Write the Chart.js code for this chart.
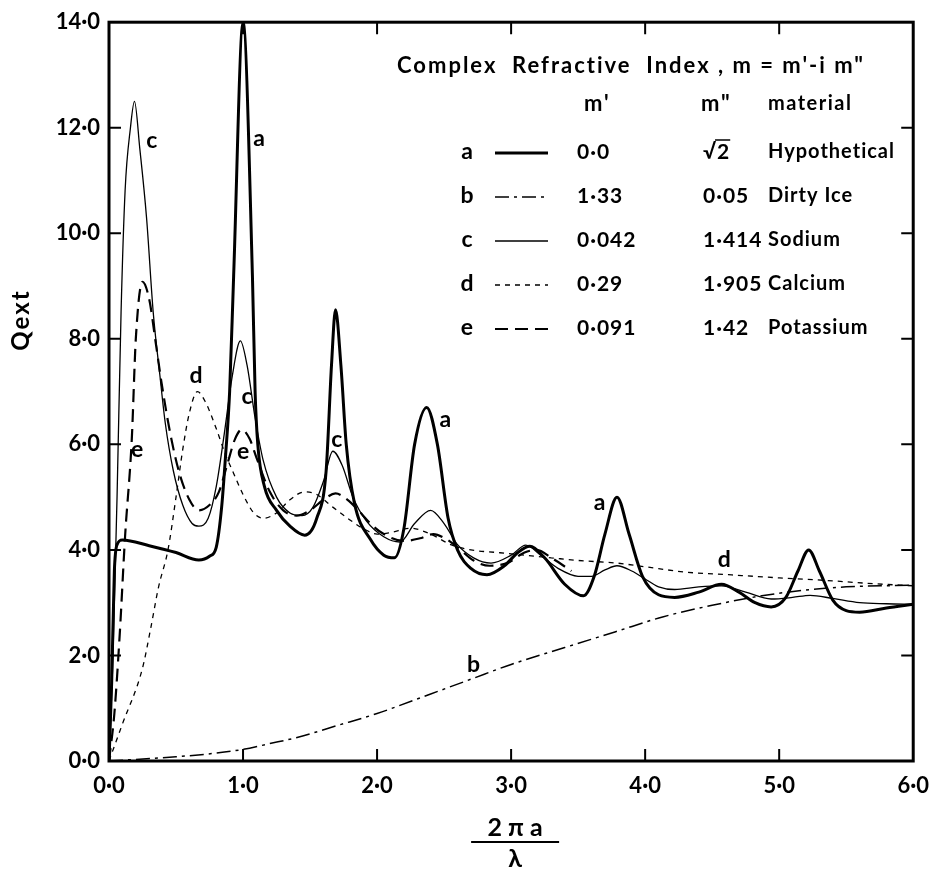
<!DOCTYPE html>
<html lang="en">
<head>
  <meta charset="UTF-8">
  <title>Qext vs 2πa/λ</title>
  <script src="https://cdn.jsdelivr.net/npm/chart.js"></script>
  <style>
    body { margin: 0; background: #fff; }
    canvas { display: block; }
  </style>
</head>
<body>
  <canvas id="qext" width="941" height="871"></canvas>
  <script>
    // curve data, [x, Qext]
    const curveA = [[0,0],[0.02,1.5],[0.04,3.6],[0.06,4.1],[0.1,4.19],[0.3,4.08],[0.5,3.95],[0.67,3.81],[0.75,3.88],
      [0.8,4.05],[0.84,4.8],[0.87,5.8],[0.9,7.0],[0.93,9.2],[1.0,14.0],[1.07,9.2],[1.09,7.0],[1.11,6.0],[1.16,5.2],
      [1.25,4.75],[1.35,4.45],[1.46,4.28],[1.55,4.6],[1.62,5.5],[1.66,7.5],[1.69,8.55],[1.73,7.5],[1.77,6.0],[1.83,4.9],
      [1.95,4.2],[2.05,3.9],[2.13,3.85],[2.2,4.4],[2.28,6.0],[2.37,6.7],[2.45,6.0],[2.53,4.6],[2.6,4.0],[2.7,3.65],
      [2.82,3.53],[2.95,3.7],[3.05,3.95],[3.14,4.07],[3.25,3.85],[3.4,3.35],[3.54,3.13],[3.62,3.5],[3.7,4.3],[3.79,5.0],
      [3.88,4.3],[3.98,3.5],[4.1,3.15],[4.22,3.1],[4.4,3.2],[4.57,3.35],[4.7,3.2],[4.82,3.0],[4.94,2.92],[5.05,3.1],
      [5.14,3.6],[5.22,4.0],[5.3,3.6],[5.4,3.05],[5.5,2.85],[5.6,2.82],[5.8,2.9],[6.0,2.97]];
    const curveB = [[0,0],[0.5,0.08],[0.8,0.15],[1.0,0.22],[1.2,0.33],[1.41,0.45],[1.7,0.67],[2.0,0.9],[2.4,1.27],
      [2.7,1.55],[3.0,1.83],[3.4,2.15],[3.78,2.45],[4.13,2.73],[4.5,2.95],[4.87,3.13],[5.2,3.24],[5.5,3.3],[6.0,3.33]];
    const curveC = [[0,0],[0.03,2.0],[0.06,5.0],[0.09,8.5],[0.12,10.8],[0.16,12.0],[0.19,12.5],[0.23,11.6],[0.28,10.3],
      [0.33,8.5],[0.38,7.3],[0.42,6.4],[0.48,5.5],[0.55,4.85],[0.62,4.5],[0.67,4.45],[0.74,4.6],[0.8,5.2],[0.86,6.2],
      [0.92,7.3],[0.98,7.96],[1.03,7.5],[1.09,6.5],[1.15,5.7],[1.25,5.0],[1.35,4.7],[1.44,4.65],[1.52,4.8],[1.6,5.3],
      [1.67,5.87],[1.74,5.6],[1.82,5.0],[1.92,4.55],[2.05,4.25],[2.17,4.15],[2.28,4.5],[2.4,4.75],[2.5,4.5],[2.6,4.1],
      [2.72,3.85],[2.85,3.75],[3.0,3.9],[3.11,4.09],[3.22,3.9],[3.35,3.65],[3.5,3.5],[3.6,3.5],[3.7,3.62],[3.79,3.7],
      [3.9,3.6],[4.0,3.45],[4.1,3.3],[4.22,3.25],[4.4,3.3],[4.57,3.32],[4.75,3.2],[4.94,3.07],[5.1,3.1],[5.23,3.14],
      [5.4,3.08],[5.6,3.0],[5.8,2.98],[6.0,2.97]];
    const curveD = [[0,0],[0.1,0.7],[0.25,1.76],[0.31,2.5],[0.37,3.3],[0.44,4.0],[0.5,5.0],[0.55,5.9],[0.6,6.6],[0.66,7.0],
      [0.72,6.8],[0.8,6.3],[0.87,5.8],[0.93,5.45],[1.0,5.05],[1.08,4.7],[1.15,4.6],[1.25,4.7],[1.35,4.95],[1.46,5.1],
      [1.55,5.05],[1.65,4.85],[1.78,4.6],[1.9,4.4],[2.0,4.3],[2.1,4.33],[2.25,4.41],[2.4,4.3],[2.55,4.1],[2.7,4.0],
      [2.9,3.95],[3.1,3.9],[3.3,3.85],[3.5,3.8],[3.79,3.75],[4.0,3.68],[4.3,3.58],[4.62,3.53],[5.0,3.47],[5.36,3.42],
      [5.7,3.36],[6.0,3.32]];
    const curveE = [[0,0],[0.04,0.9],[0.08,2.4],[0.12,4.26],[0.17,6.1],[0.2,8.0],[0.25,9.08],[0.3,8.75],[0.35,7.9],
      [0.39,7.2],[0.45,6.3],[0.52,5.5],[0.6,4.95],[0.67,4.75],[0.75,4.85],[0.82,5.1],[0.88,5.6],[0.94,6.1],[0.99,6.28],
      [1.05,6.1],[1.1,5.75],[1.2,5.1],[1.3,4.75],[1.4,4.65],[1.5,4.75],[1.6,4.95],[1.69,5.07],[1.78,4.95],[1.86,4.75],
      [1.95,4.5],[2.05,4.3],[2.2,4.17],[2.32,4.22],[2.42,4.3],[2.52,4.2],[2.6,4.05],[2.72,3.8],[2.84,3.7],[2.97,3.75],
      [3.1,3.95],[3.19,4.0],[3.3,3.85],[3.45,3.6]];

    const xTicks = [0, 1, 2, 3, 4, 5, 6];
    const yTicks = [0, 2, 4, 6, 8, 10, 12, 14];

    // legend table
    const legendKeys = ['a', 'b', 'c', 'd', 'e'];
    const legendMReal = ['0·0', '1·33', '0·042', '0·29', '0·091'];
    const legendMImag = ['√2', '0·05', '1·414', '1·905', '1·42'];
    const legendMaterial = ['Hypothetical', 'Dirty Ice', 'Sodium', 'Calcium', 'Potassium'];

    // curve letters placed on the plot [x, y, text]
    const curveLabels = [[0.32,11.76,'c'],[1.12,11.8,'a'],[0.65,7.3,'d'],[1.03,6.9,'c'],[0.21,5.9,'e'],[1.0,5.87,'e'],
      [1.7,6.1,'c'],[2.51,6.47,'a'],[3.66,4.9,'a'],[2.72,1.83,'b'],[4.59,3.81,'d']];

    const styles = {
      a: { width: 3, dash: [] },
      b: { width: 1.5, dash: [14, 5, 3, 5] },
      c: { width: 1.3, dash: [] },
      d: { width: 1.3, dash: [5, 5] },
      e: { width: 2.2, dash: [13, 7] }
    };

    const FONT = 'Lato, "DejaVu Sans", sans-serif';

    function fmt(v) { return v.toFixed(1).replace('.', '·'); }

    function makeSet(key, pts) {
      return {
        label: key,
        data: pts.map(p => ({ x: p[0], y: p[1] })),
        borderColor: '#000',
        borderWidth: styles[key].width,
        borderDash: styles[key].dash,
        pointRadius: 0,
        fill: false,
        cubicInterpolationMode: 'monotone'
      };
    }

    const decor = {
      id: 'decor',
      afterDraw(chart) {
        const ctx = chart.ctx, area = chart.chartArea;
        const x = chart.scales.x, y = chart.scales.y;
        ctx.save();
        ctx.strokeStyle = '#000';
        ctx.fillStyle = '#000';
        ctx.setLineDash([]);

        // frame
        ctx.lineWidth = 3;
        ctx.strokeRect(area.left, area.top, area.right - area.left, area.bottom - area.top);

        // inward ticks on all four sides
        ctx.lineWidth = 2;
        ctx.beginPath();
        xTicks.slice(1, -1).forEach(v => {
          const px = x.getPixelForValue(v);
          ctx.moveTo(px, area.bottom); ctx.lineTo(px, area.bottom - 12);
          ctx.moveTo(px, area.top); ctx.lineTo(px, area.top + 12);
        });
        yTicks.slice(1, -1).forEach(v => {
          const py = y.getPixelForValue(v);
          ctx.moveTo(area.left, py); ctx.lineTo(area.left + 12, py);
          ctx.moveTo(area.right, py); ctx.lineTo(area.right - 12, py);
        });
        ctx.stroke();

        // curve letters
        ctx.font = 'bold 23px ' + FONT;
        ctx.textAlign = 'center';
        ctx.textBaseline = 'middle';
        curveLabels.forEach(l => {
          ctx.fillText(l[2], x.getPixelForValue(l[0]), y.getPixelForValue(l[1]));
        });

        // legend table
        ctx.textAlign = 'left';
        ctx.font = 'bold 22px ' + FONT;
        ctx.letterSpacing = '2px';
        ctx.fillText("Complex  Refractive  Index , m = m'-i m\"", 397, 66);
        ctx.fillText("m'", 584, 104);
        ctx.fillText("m\"", 701, 104);
        ctx.font = 'bold 20px ' + FONT;
        ctx.letterSpacing = '1.5px';
        ctx.fillText('material', 768, 104);
        legendKeys.forEach((k, i) => {
          const ry = 152 + i * 44;
          ctx.font = 'bold 23px ' + FONT;
          ctx.letterSpacing = '0px';
          ctx.textAlign = 'center';
          ctx.fillText(k, 467, ry);
          ctx.textAlign = 'left';
          ctx.font = 'bold 21px ' + FONT;
          ctx.letterSpacing = '1px';
          ctx.fillText(legendMReal[i], 577, ry);
          ctx.fillText(legendMImag[i], 703, ry);
          ctx.font = 'bold 20px ' + FONT;
          ctx.fillText(legendMaterial[i], 768, ry);
          ctx.lineWidth = styles[k].width;
          ctx.setLineDash(styles[k].dash);
          ctx.beginPath();
          ctx.moveTo(495, ry + 1); ctx.lineTo(548, ry + 1);
          ctx.stroke();
          ctx.setLineDash([]);
        });
        // overbar of the root sign
        ctx.font = 'bold 21px ' + FONT;
        ctx.letterSpacing = '1px';
        const rootW = ctx.measureText('√').width;
        const twoW = ctx.measureText('2').width;
        ctx.lineWidth = 1.5;
        ctx.beginPath();
        ctx.moveTo(703 + rootW - 2, 140); ctx.lineTo(703 + rootW + twoW, 140);
        ctx.stroke();
        ctx.letterSpacing = '0px';

        // y title
        ctx.save();
        ctx.translate(21, 320);
        ctx.rotate(-Math.PI / 2);
        ctx.textAlign = 'center';
        ctx.font = 'bold 24px ' + FONT;
        ctx.letterSpacing = '2px';
        ctx.fillText('Qext', 0, 0);
        ctx.restore();

        // x title as a fraction
        const cx = (area.left + area.right) / 2 + 4;
        ctx.textAlign = 'center';
        ctx.font = 'bold 25px ' + FONT;
        ctx.fillText('2 π a', cx, 828);
        ctx.lineWidth = 2;
        ctx.beginPath();
        ctx.moveTo(cx - 44, 842); ctx.lineTo(cx + 44, 842);
        ctx.stroke();
        ctx.fillText('λ', cx, 859);
        ctx.restore();
      }
    };

    new Chart(document.getElementById('qext'), {
      type: 'line',
      data: {
        datasets: [
          makeSet('a', curveA),
          makeSet('b', curveB),
          makeSet('c', curveC),
          makeSet('d', curveD),
          makeSet('e', curveE)
        ]
      },
      options: {
        responsive: false,
        animation: false,
        layout: { padding: { top: 12, right: 21, left: 0, bottom: 0 } },
        plugins: { legend: { display: false }, tooltip: { enabled: false } },
        scales: {
          x: {
            type: 'linear', min: 0, max: 6,
            afterFit: s => { s.height = 110; },
            afterBuildTicks: s => { s.ticks = xTicks.map(v => ({ value: v })); },
            grid: { display: false, drawTicks: false },
            border: { display: false },
            ticks: { color: '#000', padding: 12, font: { family: FONT, size: 22, weight: 'bold' }, callback: fmt, maxRotation: 0 }
          },
          y: {
            type: 'linear', min: 0, max: 14,
            afterFit: s => { s.width = 109; },
            afterBuildTicks: s => { s.ticks = yTicks.map(v => ({ value: v })); },
            grid: { display: false, drawTicks: false },
            border: { display: false },
            ticks: { color: '#000', padding: 9, font: { family: FONT, size: 22, weight: 'bold' }, callback: fmt }
          }
        }
      },
      plugins: [decor]
    });
  </script>
</body>
</html>
